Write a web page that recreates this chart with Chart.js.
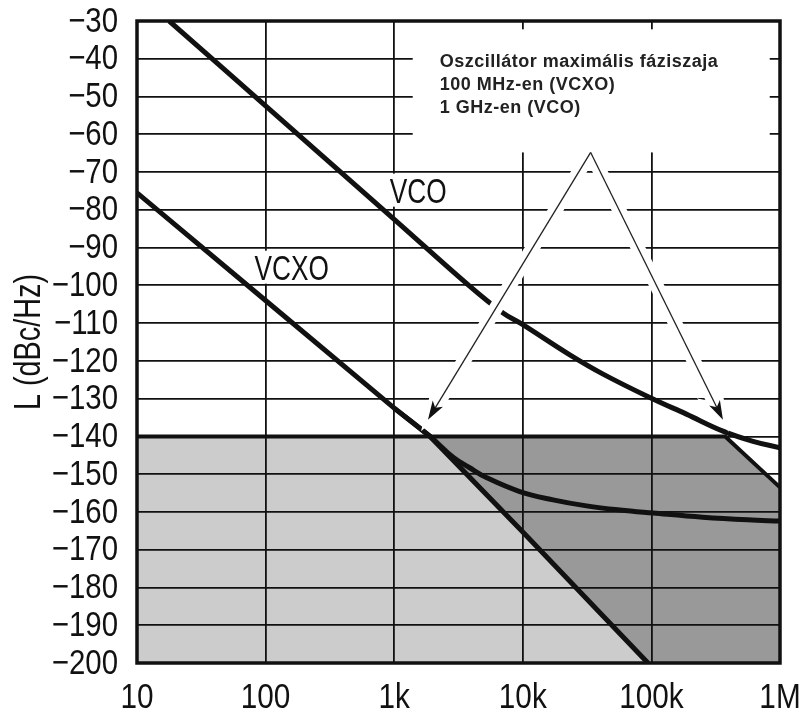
<!DOCTYPE html>
<html>
<head>
<meta charset="utf-8">
<script src="https://cdn.jsdelivr.net/npm/chart.js@4/dist/chart.umd.min.js"></script>
<style>
  body { margin: 0; background: #fff; }
  canvas { display: block; }
</style>
</head>
<body>
<canvas id="noise" width="803" height="713"></canvas>
<script>
// axis ticks
const xTickValues = [10, 100, 1000, 10000, 100000, 1000000];
const xTickLabels = ['10', '100', '1k', '10k', '100k', '1M'];
const yMin = -200;
const yMax = -30;
const yStep = 10;
const yTitle = 'L (dBc/Hz)';

// VCO phase noise (offset Hz, dBc/Hz)
const vcoFreq = [17.8, 100, 1000, 3860, 7020, 10000, 23200, 42100, 100000, 187000, 360000, 617000, 1000000];
const vcoDbc = [-30, -52.5, -82.5, -100.2, -107.3, -110.4, -118.4, -123.5, -129.9, -134.1, -138.6, -141.3, -143];

// VCXO straight slope
const vcxoFreq = [10, 100, 1000, 1900, 10000, 94000];
const vcxoDbc = [-75.5, -104, -132.5, -140, -165.3, -200];

// VCXO with noise floor
const vcxoFloorFreq = [1000, 1900, 2870, 3860, 5210, 9470, 17200, 31300, 56800, 103000, 250000, 560000, 1000000];
const vcxoFloorDbc = [-132.5, -140, -145.5, -148.3, -150.9, -154.6, -156.8, -158.4, -159.5, -160.3, -161.4, -162.1, -162.4];

// -140 dBc/Hz limit with the high offset edge
const limitFreq = [10, 375000, 1000000];
const limitDbc = [-140, -140, -153.5];

// annotation
const noteLines = ['Oszcillátor maximális fáziszaja', '100 MHz-en (VCXO)', '1 GHz-en (VCO)'];
const noteBox = { f0: 1393, f1: 832000, top: -32.2, bottom: -64.8 };
const arrowApex = { f: 33700, db: -64.8 };
const arrowTips = [{ f: 1830, db: -135.6 }, { f: 360000, db: -135.6 }];
const curveLabels = [{ text: 'VCO', f: 923, db: -78.1 }, { text: 'VCXO', f: 82, db: -98.5 }];

const sans = '"Liberation Sans", Arial, sans-serif';

const pts = (fs, ys) => fs.map((f, i) => ({ x: f, y: ys[i] }));

const vcxoPts = pts(vcxoFreq, vcxoDbc);
const lightPts = [{ x: xTickValues[0], y: limitDbc[0] }].concat(vcxoPts.filter(p => p.y <= limitDbc[0]));

// condensed text: the picture uses a narrow face, squeeze a normal one
function narrowText(ctx, text, x, y, size, sx, align, baseline, rot) {
  ctx.save();
  ctx.translate(x, y);
  if (rot) ctx.rotate(rot);
  ctx.scale(sx, 1);
  ctx.font = size + 'px ' + sans;
  ctx.textAlign = align;
  ctx.textBaseline = baseline;
  ctx.fillText(text, 0, 0);
  ctx.restore();
}

const overlay = {
  id: 'overlay',
  beforeDatasetsDraw(chart) {
    const ctx = chart.ctx, x = chart.scales.x, y = chart.scales.y;
    ctx.save();
    ctx.fillStyle = '#fff';
    // note box background
    const bx0 = x.getPixelForValue(noteBox.f0), bx1 = x.getPixelForValue(noteBox.f1);
    const by0 = y.getPixelForValue(noteBox.top), by1 = y.getPixelForValue(noteBox.bottom);
    ctx.fillRect(bx0, by0, bx1 - bx0, by1 - by0);
    // label backgrounds
    ctx.font = '35px ' + sans;
    curveLabels.forEach(l => {
      const lx = x.getPixelForValue(l.f), ly = y.getPixelForValue(l.db);
      const w = ctx.measureText(l.text).width * 0.75;
      ctx.fillRect(lx - 3, ly - 29, w + 7, 33);
    });
    ctx.restore();
  },
  afterDatasetsDraw(chart) {
    const ctx = chart.ctx, x = chart.scales.x, y = chart.scales.y;
    const area = chart.chartArea;
    ctx.save();
    ctx.beginPath();
    ctx.rect(area.left, area.top, area.right - area.left, area.bottom - area.top);
    ctx.clip();

    const ax = x.getPixelForValue(arrowApex.f), ay = y.getPixelForValue(arrowApex.db);
    const heads = arrowTips.map(t => {
      const tx = x.getPixelForValue(t.f), ty = y.getPixelForValue(t.db);
      const a = Math.atan2(ty - ay, tx - ax);
      const c = Math.cos(a), s = Math.sin(a);
      const len = 19, hw = 6;
      return {
        tx, ty,
        bx: tx - len * c, by: ty - len * s,
        l: [tx - len * c - hw * s, ty - len * s + hw * c],
        r: [tx - len * c + hw * s, ty - len * s - hw * c],
        n: [tx - (len - 5) * c, ty - (len - 5) * s]
      };
    });
    const headPath = h => {
      ctx.beginPath();
      ctx.moveTo(h.tx, h.ty);
      ctx.lineTo(h.l[0], h.l[1]);
      ctx.lineTo(h.n[0], h.n[1]);
      ctx.lineTo(h.r[0], h.r[1]);
      ctx.closePath();
    };
    // white halos first so the two arrows do not cut each other
    ctx.strokeStyle = '#fff';
    ctx.lineCap = 'butt';
    heads.forEach(h => {
      ctx.lineWidth = 14;
      ctx.beginPath();
      ctx.moveTo(ax, ay);
      ctx.lineTo(h.bx, h.by);
      ctx.stroke();
      ctx.lineWidth = 8;
      headPath(h);
      ctx.stroke();
    });
    ctx.strokeStyle = '#222';
    ctx.fillStyle = '#111';
    ctx.lineWidth = 1.3;
    heads.forEach(h => {
      ctx.beginPath();
      ctx.moveTo(ax, ay);
      ctx.lineTo(h.n[0], h.n[1]);
      ctx.stroke();
      headPath(h);
      ctx.fill();
    });
    ctx.restore();

    ctx.save();
    ctx.fillStyle = '#111';
    curveLabels.forEach(l => {
      narrowText(ctx, l.text, x.getPixelForValue(l.f), y.getPixelForValue(l.db), 35, 0.75, 'left', 'alphabetic');
    });
    ctx.font = 'bold 18px ' + sans;
    ctx.letterSpacing = '0.5px';
    ctx.fillStyle = '#222';
    ctx.textAlign = 'left';
    ctx.textBaseline = 'alphabetic';
    const tx = x.getPixelForValue(noteBox.f0) + 27;
    const ty = y.getPixelForValue(noteBox.top) + 38;
    noteLines.forEach((t, i) => ctx.fillText(t, tx, ty + i * 23));
    ctx.restore();
  },
  afterDraw(chart) {
    const ctx = chart.ctx, a = chart.chartArea, x = chart.scales.x, y = chart.scales.y;
    ctx.save();
    ctx.strokeStyle = '#111';
    ctx.lineWidth = 3.5;
    ctx.strokeRect(a.left, a.top, a.right - a.left, a.bottom - a.top);
    // tick labels from the scales' own ticks
    ctx.fillStyle = '#111';
    y.ticks.forEach(t => {
      narrowText(ctx, String(t.value).replace('-', '\u2212'), a.left - 19, y.getPixelForValue(t.value) + 1, 35, 0.84, 'right', 'middle');
    });
    x.ticks.forEach(t => {
      narrowText(ctx, xTickLabels[xTickValues.indexOf(t.value)], x.getPixelForValue(t.value), a.bottom + 45, 35, 0.85, 'center', 'alphabetic');
    });
    narrowText(ctx, yTitle, 40, (a.top + a.bottom) / 2, 36, 0.8, 'center', 'alphabetic', -Math.PI / 2);
    ctx.restore();
  }
};

new Chart(document.getElementById('noise'), {
  type: 'line',
  data: {
    datasets: [
      {
        label: 'light',
        data: lightPts,
        borderWidth: 0,
        borderColor: 'rgba(0,0,0,0)',
        backgroundColor: '#cccccc',
        fill: 'start',
        pointRadius: 0,
        tension: 0
      },
      {
        label: 'limit',
        data: pts(limitFreq, limitDbc),
        borderWidth: 4,
        borderColor: '#111',
        backgroundColor: '#999999',
        fill: 'start',
        pointRadius: 0,
        tension: 0
      },
      {
        label: 'VCXO',
        data: vcxoPts,
        borderWidth: 5,
        borderColor: '#111',
        fill: false,
        pointRadius: 0,
        tension: 0
      },
      {
        label: 'VCXO floor',
        data: pts(vcxoFloorFreq, vcxoFloorDbc),
        borderWidth: 5,
        borderColor: '#111',
        fill: false,
        pointRadius: 0,
        tension: 0.4
      },
      {
        label: 'VCO',
        data: pts(vcoFreq, vcoDbc),
        borderWidth: 5,
        borderColor: '#111',
        fill: false,
        pointRadius: 0,
        tension: 0.4
      }
    ]
  },
  options: {
    responsive: false,
    animation: false,
    layout: { padding: { left: 0, top: 21, right: 23, bottom: 0 } },
    plugins: {
      legend: { display: false },
      tooltip: { enabled: false },
      filler: { drawTime: 'beforeDraw' }
    },
    scales: {
      x: {
        type: 'logarithmic',
        min: xTickValues[0],
        max: xTickValues[xTickValues.length - 1],
        afterBuildTicks: s => { s.ticks = xTickValues.map(v => ({ value: v })); },
        afterFit: s => { s.height = 50; },
        ticks: { display: false, autoSkip: false },
        grid: { color: '#111', lineWidth: 1.8, drawTicks: false },
        border: { display: false }
      },
      y: {
        min: yMin,
        max: yMax,
        afterFit: s => { s.width = 137; },
        ticks: { display: false, autoSkip: false, stepSize: yStep },
        grid: { color: '#111', lineWidth: 1.8, drawTicks: false },
        border: { display: false }
      }
    }
  },
  plugins: [overlay]
});
</script>
</body>
</html>
